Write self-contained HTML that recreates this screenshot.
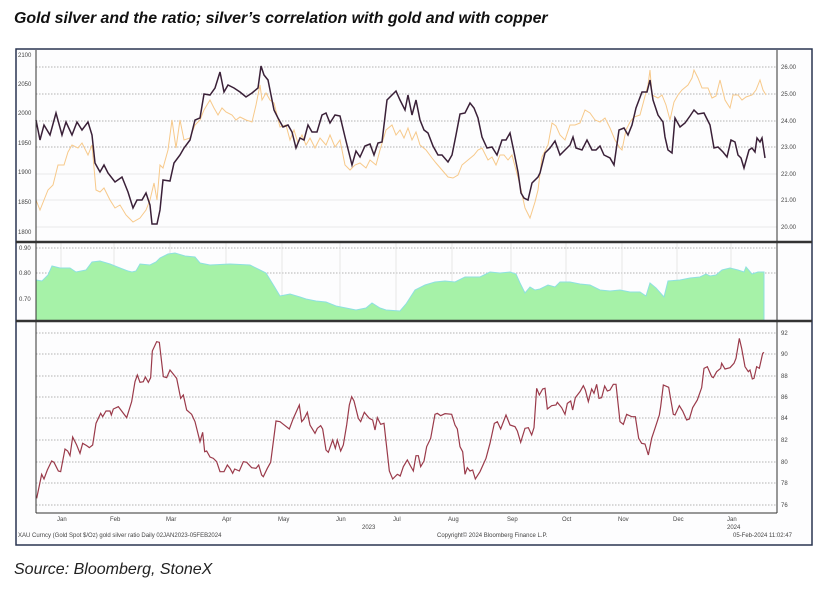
<!DOCTYPE html>
<html><head><meta charset="utf-8"><style>
body{margin:0;width:829px;height:591px;background:#fff;overflow:hidden;font-family:"Liberation Sans",sans-serif}
.t{position:absolute;left:14px;top:10px;font-size:15.9px;font-weight:bold;font-style:italic;color:#111}
.s{position:absolute;left:14px;top:561px;font-size:16px;font-style:italic;color:#222}
svg{position:absolute;left:0;top:0}
</style></head><body>
<div class="t">Gold silver and the ratio; silver’s correlation with gold and with copper</div>
<div class="s">Source: Bloomberg, StoneX</div>
<svg width="829" height="591" font-family="Liberation Sans, sans-serif">
<rect x="16" y="49" width="796" height="496" fill="#fdfdfe" stroke="#2a3550" stroke-width="1.5"/>
<g stroke="#999" stroke-width="0.8" stroke-dasharray="1.5,1.5">
<line x1="36" x2="777" y1="67" y2="67"/><line x1="36" x2="777" y1="94" y2="94"/><line x1="36" x2="777" y1="121" y2="121"/><line x1="36" x2="777" y1="147" y2="147"/>
<line x1="36" x2="777" y1="248" y2="248"/><line x1="36" x2="777" y1="273" y2="273"/>
<line x1="36" x2="777" y1="333" y2="333"/><line x1="36" x2="777" y1="354" y2="354"/><line x1="36" x2="777" y1="376" y2="376"/><line x1="36" x2="777" y1="397" y2="397"/><line x1="36" x2="777" y1="418" y2="418"/><line x1="36" x2="777" y1="440" y2="440"/><line x1="36" x2="777" y1="462" y2="462"/><line x1="36" x2="777" y1="483" y2="483"/><line x1="36" x2="777" y1="505" y2="505"/>
</g>
<g stroke="#e2e2e2" stroke-width="0.8"><line x1="36" x2="777" y1="174" y2="174"/><line x1="36" x2="777" y1="200" y2="200"/><line x1="36" x2="777" y1="227" y2="227"/></g>
<g stroke="#ddd" stroke-width="0.7"><line x1="61" x2="61" y1="243" y2="320"/><line x1="114" x2="114" y1="243" y2="320"/><line x1="170" x2="170" y1="243" y2="320"/><line x1="226" x2="226" y1="243" y2="320"/><line x1="282" x2="282" y1="243" y2="320"/><line x1="340" x2="340" y1="243" y2="320"/><line x1="396" x2="396" y1="243" y2="320"/><line x1="452" x2="452" y1="243" y2="320"/><line x1="511" x2="511" y1="243" y2="320"/><line x1="566" x2="566" y1="243" y2="320"/><line x1="622" x2="622" y1="243" y2="320"/><line x1="677" x2="677" y1="243" y2="320"/><line x1="731" x2="731" y1="243" y2="320"/></g>
<polygon fill="#a6f2a8" stroke="#8ee0e0" stroke-width="1" points="36,321 36,280 42,281 48,275 52,266 60,268 70,268 76,272 86,270 92,262 100,261 110,264 120,268 128,271 132,272 136,271 140,264 150,265 156,262 160,258 168,254 175,253 185,256 195,257 200,263 210,265 230,264 250,265 260,270 266,273 274,286 280,296 290,294 300,297 306,299 316,301 326,302 336,306 346,308 356,310 366,308 372,303 380,308 386,310 400,311 406,304 415,290 425,285 435,282 445,281 455,282 465,277 480,277 490,272 500,273 510,272 516,274 520,283 525,293 530,287 535,290 540,289 548,285 555,287 560,282 570,282 580,284 590,285 600,290 610,291 620,290 630,292 640,292 646,296 650,283 656,288 664,297 668,281 680,280 690,278 700,277 706,274 710,276 716,275 722,270 730,268 738,270 744,272 746,267 752,274 758,272 764,272 764,321"/>
<polyline fill="none" stroke="#f7c98a" stroke-width="1" points="36,200 40,210 44,200 48,190 53,185 58,165 64,165 68,152 72,145 78,148 82,143 88,155 92,145 96,190 100,192 104,188 110,200 115,208 120,205 126,215 133,222 140,218 146,210 150,200 154,183 157,200 160,165 163,168 168,150 172,120 176,148 180,120 184,140 190,138 195,125 200,120 204,110 210,100 214,108 218,115 222,108 226,112 232,115 236,120 240,117 246,120 252,122 256,105 260,85 262,100 266,93 270,100 274,103 280,127 286,125 290,140 294,130 298,143 302,135 306,145 310,138 315,148 320,138 326,145 330,135 335,147 340,140 345,165 350,170 355,165 360,163 366,168 370,160 376,165 380,150 386,130 392,125 396,135 400,130 404,138 408,128 412,140 416,132 420,145 426,150 432,158 436,163 442,170 448,177 453,178 458,175 462,165 468,160 474,155 478,150 482,148 488,160 492,157 496,165 500,155 504,155 508,160 512,155 516,170 520,185 525,208 530,218 535,202 538,190 542,157 548,145 552,123 556,126 560,135 565,140 570,125 575,125 580,123 585,110 590,113 595,120 600,122 605,118 610,128 615,140 620,148 622,150 626,130 630,122 634,117 640,115 644,100 648,85 650,70 652,95 658,98 662,95 666,105 670,120 674,102 678,95 682,90 688,85 692,78 694,70 698,78 702,88 708,88 712,98 716,96 720,80 725,100 730,108 733,95 738,95 742,100 746,97 752,95 756,90 760,80 763,90 766,95"/>
<polyline fill="none" stroke="#3a2038" stroke-width="1.5" points="36,120 40,140 44,125 50,135 56,113 62,135 66,122 72,135 77,122 82,130 88,122 92,135 95,163 100,172 104,165 108,173 115,182 122,177 128,192 133,208 137,200 142,200 146,193 150,205 152,224 157,224 160,210 163,180 170,181 174,163 180,155 184,148 190,140 195,120 200,118 204,94 210,95 215,88 220,72 224,92 228,85 234,88 240,92 246,97 252,93 258,88 261,66 264,75 268,80 274,110 278,118 283,127 288,125 292,132 296,148 300,138 304,140 308,125 312,132 317,132 322,115 326,113 330,123 335,115 340,116 345,137 352,165 356,151 360,157 365,146 370,144 374,155 378,143 382,142 387,100 392,95 396,91 400,100 405,110 408,95 412,115 416,100 420,120 424,130 428,133 433,146 438,155 442,155 448,162 452,155 456,135 460,114 465,113 470,103 474,108 478,118 482,137 487,148 492,147 497,155 502,140 506,140 510,133 514,152 518,172 521,193 524,198 528,200 532,183 538,177 540,173 545,153 550,148 555,141 560,155 565,150 570,145 573,137 576,148 582,150 587,140 592,150 596,150 600,146 604,155 610,158 614,165 619,130 624,128 628,135 632,125 636,108 642,92 647,92 650,80 653,100 658,115 663,122 665,137 668,150 672,153 675,118 680,127 685,123 690,116 694,110 698,114 704,113 710,125 714,148 718,147 723,152 727,157 731,140 735,142 738,155 741,158 744,168 749,150 752,148 755,152 757,138 760,142 762,138 765,158"/>
<g transform="translate(30,325) scale(0.33333)">
<polyline fill="none" stroke="#9a3a4a" stroke-width="1.2" vector-effect="non-scaling-stroke" points="20,520 35,448 42,462 52,435 65,408 72,412 85,438 92,440 105,372 113,378 120,392 128,336 140,360 150,385 158,355 170,362 178,368 188,360 198,295 212,265 218,275 228,258 240,258 244,270 250,252 265,245 290,278 305,230 315,170 322,150 330,172 340,170 346,156 355,172 362,158 367,78 380,50 388,52 400,155 410,158 420,135 432,150 440,160 452,220 460,210 470,255 485,268 495,290 510,350 518,322 524,380 530,378 540,396 550,400 560,410 570,440 582,440 592,420 600,430 608,445 614,432 628,438 640,410 650,412 665,428 678,430 686,420 695,450 700,455 712,430 722,412 738,288 750,290 760,298 778,312 790,280 808,240 815,290 822,282 832,262 840,300 855,325 862,310 872,302 878,312 888,375 895,382 908,345 916,370 922,345 932,378 940,360 950,300 958,240 965,215 972,228 985,280 992,290 1003,262 1018,280 1028,285 1035,315 1042,278 1052,298 1062,295 1078,438 1088,462 1102,448 1110,452"/>
</g>
<g transform="translate(400,325) scale(0.33333)">
<polyline fill="none" stroke="#9a3a4a" stroke-width="1.2" vector-effect="non-scaling-stroke" points="0,455 10,425 22,405 30,420 40,438 48,392 55,392 62,425 72,408 80,365 92,340 105,268 112,265 122,272 135,266 155,268 165,300 172,312 180,365 188,380 195,448 202,428 210,438 218,435 226,462 240,440 258,400 270,355 283,295 292,290 302,312 318,270 330,300 345,305 352,318 362,352 375,310 385,308 395,330 402,308 410,190 418,210 428,192 435,190 442,252 455,242 468,240 472,232 485,248 495,268 502,235 512,228 518,255 526,218 540,200 550,182 556,195 565,230 575,192 582,205 590,178 597,220 605,218 614,183 622,198 630,195 640,178 648,178 660,290 670,298 680,268 695,275 706,275 716,340 725,355 735,357 745,390 755,340 765,310 778,270 782,245 790,180 806,187 820,268 825,270 838,242 848,258 860,285 868,282 878,248 892,225 905,188 912,130 922,125 935,155 940,158 950,140 962,130 965,115 975,132 990,128 1002,115 1008,100 1018,40 1025,70 1035,125 1045,140 1050,135 1057,162 1062,160 1070,125 1078,130 1088,85 1092,82"/>
</g>
<g stroke="#333" stroke-width="1"><line x1="36" x2="36" y1="50" y2="513"/><line x1="777" x2="777" y1="50" y2="513"/><line x1="36" x2="777" y1="513" y2="513"/></g>
<line x1="16" x2="812" y1="242" y2="242" stroke="#333" stroke-width="2.5"/>
<line x1="16" x2="812" y1="321" y2="321" stroke="#333" stroke-width="2.5"/>
<g font-size="6" fill="#444">
<text x="18" y="57">2100</text><text x="18" y="86">2050</text><text x="18" y="115">2000</text><text x="18" y="145">1950</text><text x="18" y="174">1900</text><text x="18" y="204">1850</text><text x="18" y="234">1800</text>
<text x="19" y="250">0.90</text><text x="19" y="275">0.80</text><text x="19" y="301">0.70</text>
<text x="781" y="69">26.00</text><text x="781" y="96">25.00</text><text x="781" y="123">24.00</text><text x="781" y="149">23.00</text><text x="781" y="176">22.00</text><text x="781" y="202">21.00</text><text x="781" y="229">20.00</text>
<text x="781" y="335">92</text><text x="781" y="356">90</text><text x="781" y="378">88</text><text x="781" y="399">86</text><text x="781" y="420">84</text><text x="781" y="442">82</text><text x="781" y="464">80</text><text x="781" y="485">78</text><text x="781" y="507">76</text>
<text x="57" y="521">Jan</text><text x="110" y="521">Feb</text><text x="166" y="521">Mar</text><text x="222" y="521">Apr</text><text x="278" y="521">May</text><text x="336" y="521">Jun</text><text x="393" y="521">Jul</text><text x="448" y="521">Aug</text><text x="507" y="521">Sep</text><text x="562" y="521">Oct</text><text x="618" y="521">Nov</text><text x="673" y="521">Dec</text><text x="727" y="521">Jan</text>
<text x="362" y="529">2023</text><text x="727" y="529">2024</text>
<text x="18" y="537">XAU Curncy (Gold Spot  $/Oz) gold silver ratio  Daily 02JAN2023-05FEB2024</text>
<text x="437" y="537">Copyright© 2024 Bloomberg Finance L.P.</text>
<text x="733" y="537">05-Feb-2024 11:02:47</text>
</g>
</svg>
</body></html>
